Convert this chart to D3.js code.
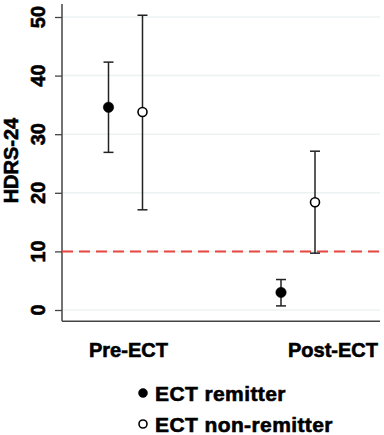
<!DOCTYPE html>
<html>
<head>
  <script src="https://d3js.org/d3.v7.min.js"></script>
  <style>
    body { margin: 0; background: #fff; }
    text { font-family: "Liberation Sans", Arial, sans-serif; font-weight: bold; fill: #000; stroke: #000; stroke-width: 0.6px; }
  </style>
</head>
<body>
  <div id="chart"></div>
  <script>
    var groups = ["Pre-ECT", "Post-ECT"];
    var series = ["ECT remitter", "ECT non-remitter"];
    var means = [[34.6, 33.8], [3.0, 18.4]];
    var lower = [[26.9, 17.1], [0.7, 9.7]];
    var upper = [[42.3, 50.3], [5.2, 27.1]];
    var yTicks = [0, 10, 20, 30, 40, 50];
    var cutoff = 10;

    var width = 384, height = 435;
    var left = 62, right = 380;

    var svg = d3.select("#chart").append("svg")
      .attr("width", width)
      .attr("height", height);

    var y = d3.scaleLinear().domain([0, 50]).range([310, 17]);
    var x = d3.scalePoint().domain(groups).range([125.5, 298]);
    var xs = d3.scalePoint().domain(series).range([-17, 17]);

    // grid
    svg.selectAll(".grid")
      .data(yTicks)
      .enter().append("line")
      .attr("x1", left).attr("x2", right)
      .attr("y1", function(d) { return y(d); })
      .attr("y2", function(d) { return y(d); })
      .attr("stroke", "#ecf2f2")
      .attr("stroke-width", 1.5);

    // y axis
    var yAxis = svg.append("g")
      .attr("transform", "translate(" + left + ",0)")
      .call(d3.axisLeft(y).tickValues(yTicks).tickSize(7).tickFormat(""));
    yAxis.select(".domain").remove();
    yAxis.selectAll("line").attr("stroke", "#444").attr("stroke-width", 1.3);

    svg.selectAll(".ylab")
      .data(yTicks)
      .enter().append("text")
      .attr("transform", function(d) { return "translate(45," + y(d) + ") rotate(-90)"; })
      .attr("text-anchor", "middle")
      .style("font-size", "20px")
      .text(function(d) { return d; });

    svg.append("text")
      .attr("transform", "translate(18," + y(25.5) + ") rotate(-90)")
      .attr("text-anchor", "middle")
      .style("font-size", "20px")
      .text("HDRS-24");

    // axis lines
    svg.append("line")
      .attr("x1", left).attr("x2", left)
      .attr("y1", y(52.2)).attr("y2", y(-1.9))
      .attr("stroke", "#444").attr("stroke-width", 1.5);
    svg.append("line")
      .attr("x1", left).attr("x2", right)
      .attr("y1", y(-1.9)).attr("y2", y(-1.9))
      .attr("stroke", "#444").attr("stroke-width", 1.5);

    // cutoff line
    svg.append("line")
      .attr("x1", left).attr("x2", width)
      .attr("y1", y(cutoff)).attr("y2", y(cutoff))
      .attr("stroke", "#e8473f")
      .attr("stroke-width", 2)
      .attr("stroke-dasharray", "11,6");

    // points with error bars
    var pts = [];
    groups.forEach(function(g, i) {
      series.forEach(function(s, j) {
        pts.push({g: g, s: s, j: j, m: means[i][j], lo: lower[i][j], hi: upper[i][j]});
      });
    });

    var pg = svg.selectAll(".pt")
      .data(pts)
      .enter().append("g")
      .attr("transform", function(d) { return "translate(" + (x(d.g) + xs(d.s)) + ",0)"; });

    pg.append("line")
      .attr("y1", function(d) { return y(d.lo); })
      .attr("y2", function(d) { return y(d.hi); })
      .attr("stroke", "#222").attr("stroke-width", 1.5);
    pg.append("line")
      .attr("x1", -5).attr("x2", 5)
      .attr("y1", function(d) { return y(d.lo); })
      .attr("y2", function(d) { return y(d.lo); })
      .attr("stroke", "#222").attr("stroke-width", 1.5);
    pg.append("line")
      .attr("x1", -5).attr("x2", 5)
      .attr("y1", function(d) { return y(d.hi); })
      .attr("y2", function(d) { return y(d.hi); })
      .attr("stroke", "#222").attr("stroke-width", 1.5);
    pg.append("circle")
      .attr("cy", function(d) { return y(d.m); })
      .attr("r", function(d) { return d.j === 0 ? 5.2 : 4.5; })
      .attr("fill", function(d) { return d.j === 0 ? "#000" : "#fff"; })
      .attr("stroke", "#000")
      .attr("stroke-width", function(d) { return d.j === 0 ? 0.5 : 1.6; });

    // category labels
    svg.append("text")
      .attr("x", left + 27).attr("y", 357)
      .style("font-size", "20px")
      .text(groups[0]);
    svg.append("text")
      .attr("x", right - 2).attr("y", 357)
      .attr("text-anchor", "end")
      .style("font-size", "20px")
      .text(groups[1]);

    // legend
    var lg = svg.selectAll(".leg")
      .data(series)
      .enter().append("g")
      .attr("transform", function(d, i) { return "translate(143," + (393 + i * 31) + ")"; });
    lg.append("circle")
      .attr("r", function(d, i) { return i === 0 ? 4.5 : 4; })
      .attr("fill", function(d, i) { return i === 0 ? "#000" : "#fff"; })
      .attr("stroke", "#000")
      .attr("stroke-width", function(d, i) { return i === 0 ? 0.5 : 1.6; });
    lg.append("text")
      .attr("x", 12).attr("y", 7.5)
      .style("font-size", "21px")
      .style("letter-spacing", "0.4px")
      .text(function(d) { return d; });
  </script>
</body>
</html>
